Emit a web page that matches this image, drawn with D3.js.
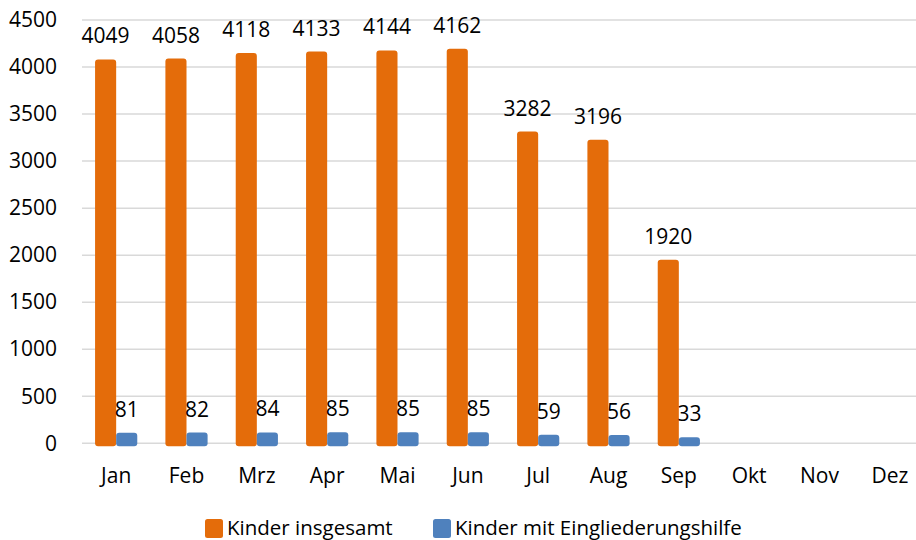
<!DOCTYPE html>
<html>
<head>
<meta charset="utf-8">
<script src="https://cdn.jsdelivr.net/npm/d3@7"></script>
<style>
  body { margin: 0; background: #fff; }
  svg text { font-family: "Open Sans", "Noto Sans", sans-serif; fill: #000; }
</style>
</head>
<body>
<div id="chart"></div>
<script>
// Daten
var months = ["Jan","Feb","Mrz","Apr","Mai","Jun","Jul","Aug","Sep","Okt","Nov","Dez"];
var kinderGesamt = [4049,4058,4118,4133,4144,4162,3282,3196,1920,null,null,null];
var kinderEingl = [81,82,84,85,85,85,59,56,33,null,null,null];
var yTicks = [0,500,1000,1500,2000,2500,3000,3500,4000,4500];
var seriesNames = ["Kinder insgesamt","Kinder mit Eingliederungshilfe"];

var W = 916, H = 540;
var colors = ["#E46C0A","#4F81BD"];
var FONT = "21px";

var svg = d3.select("#chart").append("svg")
    .attr("width", W)
    .attr("height", H);

var x = d3.scaleBand().domain(months).range([81, 925]).padding(0);
var y = d3.scaleLinear().domain([0, 4500]).range([443.3, 20]);
var barW = x.bandwidth() * 0.3;

// Gitternetzlinien
svg.append("g")
    .selectAll("line")
    .data(yTicks)
    .enter()
    .append("line")
    .attr("x1", 82)
    .attr("x2", W)
    .attr("y1", function(d){ return y(d); })
    .attr("y2", function(d){ return y(d); })
    .attr("stroke", "#d9d9d9")
    .attr("stroke-width", 1.5);

// y-Achse
var yAxis = d3.axisLeft(y).tickValues(yTicks).tickFormat(d3.format("d")).tickSize(0).tickPadding(0);
var gy = svg.append("g")
    .attr("transform", "translate(57,0)")
    .call(yAxis);
gy.select(".domain").remove();
gy.selectAll("text")
    .style("font-size", FONT)
    .attr("fill", "#000");

// x-Achse
var xAxis = d3.axisBottom(x).tickSize(0).tickPadding(0);
var gx = svg.append("g")
    .attr("transform", "translate(0,483)")
    .call(xAxis);
gx.select(".domain").remove();
gx.selectAll("text")
    .attr("dy", 0)
    .style("font-size", FONT)
    .attr("fill", "#000");

var series = [kinderGesamt, kinderEingl];
var bars = svg.append("g").attr("class", "bars");

series.forEach(function(vals, s){
    var data = months.map(function(m, i){ return {m: m, v: vals[i]}; })
        .filter(function(d){ return d.v != null; });
    var g = bars.append("g");
    g.selectAll("rect")
        .data(data)
        .enter()
        .append("rect")
        .attr("x", function(d){ return x(d.m) + x.bandwidth()/2 - barW + s*barW; })
        .attr("y", function(d){ return y(d.v) - 3; })
        .attr("width", barW)
        .attr("height", function(d){ return y(0) - y(d.v) + 6; })
        .attr("rx", 3)
        .attr("fill", colors[s]);
    // Datenbeschriftung
    g.selectAll("text")
        .data(data)
        .enter()
        .append("text")
        .attr("x", function(d){ return x(d.m) + x.bandwidth()/2 - barW/2 + s*barW; })
        .attr("y", function(d){ return y(d.v) - 19; })
        .attr("text-anchor", "middle")
        .style("font-size", FONT)
        .text(function(d){ return d.v; });
});

// Legende
var legend = svg.append("g").attr("transform", "translate(205,519)");
var legX = [0, 228];
seriesNames.forEach(function(n, i){
    var lg = legend.append("g").attr("transform", "translate(" + legX[i] + ",0)");
    lg.append("rect")
        .attr("width", 18)
        .attr("height", 19)
        .attr("rx", 2.5)
        .attr("fill", colors[i]);
    lg.append("text")
        .attr("x", 22)
        .attr("y", 15.5)
        .style("font-size", "20.5px")
        .text(n);
});
</script>
</body>
</html>
